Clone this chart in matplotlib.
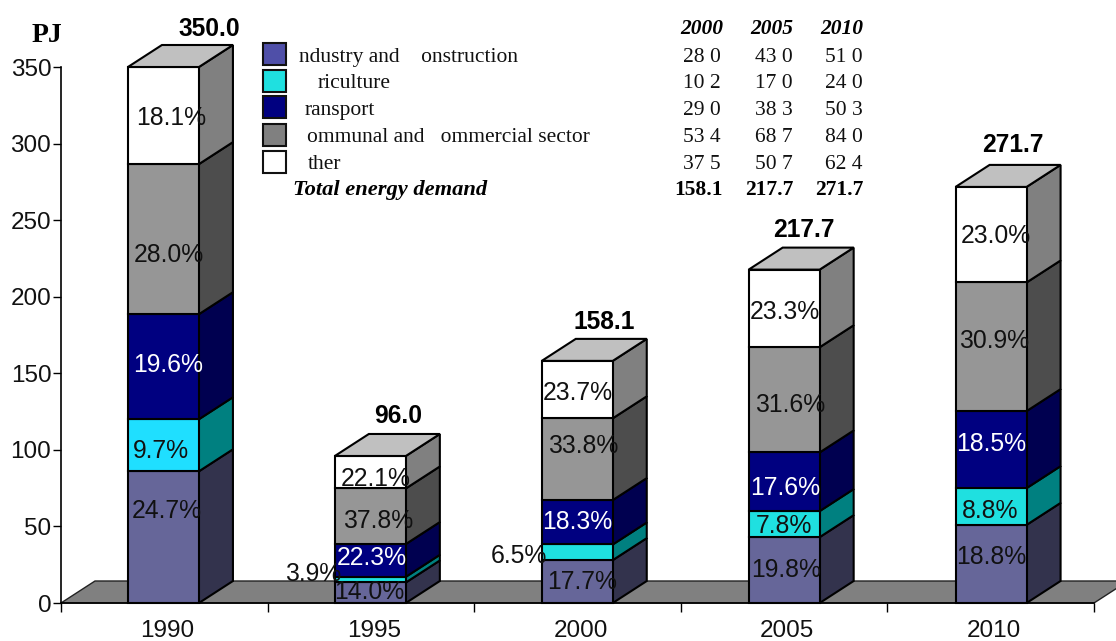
import matplotlib
matplotlib.use("Agg")
import matplotlib.pyplot as plt
from matplotlib.patches import Polygon, Rectangle

years = ["1990", "1995", "2000", "2005", "2010"]
totals = ["350.0", "96.0", "158.1", "217.7", "271.7"]
industry = [86.0, 13.4, 28.0, 43.0, 51.0]
agriculture = [34.0, 3.7, 10.2, 17.0, 24.0]
transport = [68.6, 21.4, 29.0, 38.3, 50.3]
communal = [98.0, 36.3, 53.4, 68.7, 84.0]
other = [63.4, 21.2, 37.5, 50.7, 62.4]
series = [industry, agriculture, transport, communal, other]

pct_labels = [
    ["24.7%", "9.7%", "19.6%", "28.0%", "18.1%"],
    ["14.0%", "3.9%", "22.3%", "37.8%", "22.1%"],
    ["17.7%", "6.5%", "18.3%", "33.8%", "23.7%"],
    ["19.8%", "7.8%", "17.6%", "31.6%", "23.3%"],
    ["18.8%", "8.8%", "18.5%", "30.9%", "23.0%"],
]

legend_names = ["ndustry and    onstruction", "riculture", "ransport",
                "ommunal and   ommercial sector", "ther"]
table_years = ["2000", "2005", "2010"]
table_rows = [
    ["28 0", "43 0", "51 0"],
    ["10 2", "17 0", "24 0"],
    ["29 0", "38 3", "50 3"],
    ["53 4", "68 7", "84 0"],
    ["37 5", "50 7", "62 4"],
]
table_totals = ["158.1", "217.7", "271.7"]

W, H = 1116, 641
front = ["#666699", "#1FE0E0", "#000080", "#969696", "#FFFFFF"]
side = ["#33334D", "#008080", "#000050", "#4D4D4D", "#808080"]
legend_colors = ["#4F4FA8", "#1FE0E0", "#000080", "#808080", "#FFFFFF"]

# where things sit in the picture, in pixels
label_pos = [
    [(167, 511), (161, 451), (168, 365), (169, 255), (171, 118)],
    [(369, 592), (313, 574), (372, 558), (378, 521), (376, 479)],
    [(582, 582), (519, 556), (577, 522), (583, 446), (578, 393)],
    [(786, 570), (784, 526), (785, 488), (790, 405), (785, 312)],
    [(991, 557), (990, 511), (991, 444), (994, 341), (996, 236)],
]
total_pos = [(209, 29), (398, 416), (604, 322), (804, 230), (1013, 145)]
legend_base = [62, 88, 115, 142, 169]
swatch_top = [43, 70, 96, 124, 151]
legend_x = [299, 318, 305, 307, 308]
year_x = [702, 772, 842]
row_x = [702, 774, 844]
sum_x = [698, 769, 839]


def px(x, y):
    return x / W, 1 - y / H


def box(ax, x, low, high, width, dx, dy, color, side_color):
    ax.add_patch(Polygon([(x + width, low), (x + width + dx, low + dy),
                          (x + width + dx, high + dy), (x + width, high)],
                         facecolor=side_color, edgecolor="black", lw=1.5,
                         clip_on=False, zorder=3))
    ax.add_patch(Rectangle((x, low), width, high - low, facecolor=color,
                           edgecolor="black", lw=1.5, clip_on=False, zorder=4))


def main():
    fig = plt.figure(figsize=(W / 100, H / 100), dpi=100)
    ax = fig.add_axes([61 / W, (H - 603) / H, 1033 / W, 536 / H])
    ax.set_xlim(0, 5)
    ax.set_ylim(0, 350)
    for name in ["top", "right"]:
        ax.spines[name].set_visible(False)
    ax.spines["left"].set_linewidth(1.2)
    ax.spines["bottom"].set_linewidth(1.2)
    ax.spines["left"].set_zorder(6)

    ax.set_yticks(range(0, 351, 50))
    ax.tick_params(axis="y", length=6, width=1, pad=1,
                   labelsize=17.5, labelcolor="#111111")
    ax.set_xticks(range(6))
    ax.set_xticklabels([])
    ax.tick_params(axis="x", which="major", length=6.5, width=1)
    ax.set_xticks([i + 0.515 for i in range(5)], minor=True)
    ax.set_xticklabels(years, minor=True, fontsize=17.5, color="#111111")
    ax.tick_params(axis="x", which="minor", length=0, pad=12.5)
    for lab in ax.get_xticklabels(minor=True) + ax.get_yticklabels():
        lab.set_family(["Liberation Sans"])

    # depth of the fake 3d in data units
    dx = 34 / (1033 / 5)
    dy = 22 / (536 / 350)
    width = 71 / (1033 / 5)

    ax.add_patch(Polygon([(0, 0), (dx, dy), (5 + dx, dy), (5, 0)],
                         facecolor="#808080", edgecolor="#222222", lw=1,
                         clip_on=False, zorder=1))

    for i in range(len(years)):
        x = 0.324 + i * 1.0015
        low = 0
        for k, values in enumerate(series):
            color = front[k]
            if k == 1 and i == 0:
                color = "#1FDFFF"
            box(ax, x, low, low + values[i], width, dx, dy, color, side[k])
            low += values[i]
        ax.add_patch(Polygon([(x, low), (x + dx, low + dy),
                              (x + width + dx, low + dy), (x + width, low)],
                             facecolor="#C0C0C0", edgecolor="black", lw=1.5,
                             clip_on=False, zorder=4))
        for k in range(5):
            tx, ty = px(*label_pos[i][k])
            fig.text(tx, ty, pct_labels[i][k], ha="center", va="center",
                     fontsize=17.8, family="Liberation Sans", zorder=8,
                     color="white" if k == 2 else "#111111")
        tx, ty = px(*total_pos[i])
        fig.text(tx, ty, totals[i], ha="center", va="center", fontsize=17.7,
                 fontweight="bold", family="Liberation Sans")

    tx, ty = px(47, 36)
    fig.text(tx, ty, "PJ", ha="center", va="center", fontsize=20,
             fontweight="bold", family="Liberation Serif")

    for k, name in enumerate(legend_names):
        sx, sy = px(263, swatch_top[k] + 22)
        fig.add_artist(Rectangle((sx, sy), 23 / W, 22 / H,
                                 transform=fig.transFigure,
                                 facecolor=legend_colors[k],
                                 edgecolor="#111111", lw=1.5))
        tx, ty = px(legend_x[k], legend_base[k])
        fig.text(tx, ty, name, ha="left", va="baseline", fontsize=15.5,
                 family="Liberation Serif", color="#111111")
        for j in range(3):
            tx, ty = px(row_x[j], legend_base[k])
            fig.text(tx, ty, table_rows[k][j], ha="center", va="baseline",
                     fontsize=15.5, family="Liberation Serif", color="#111111")

    for j in range(3):
        tx, ty = px(year_x[j], 34)
        fig.text(tx, ty, table_years[j], ha="center", va="baseline", fontsize=15.5,
                 fontweight="bold", style="italic", family="Liberation Serif")
        tx, ty = px(sum_x[j], 195)
        fig.text(tx, ty, table_totals[j], ha="center", va="baseline", fontsize=15.5,
                 fontweight="bold", family="Liberation Serif")
    tx, ty = px(293, 195)
    fig.text(tx, ty, "Total energy demand", ha="left", va="baseline", fontsize=16.2,
             fontweight="bold", style="italic", family="Liberation Serif")

    fig.savefig("out.png", dpi=100)


if __name__ == "__main__":
    main()
